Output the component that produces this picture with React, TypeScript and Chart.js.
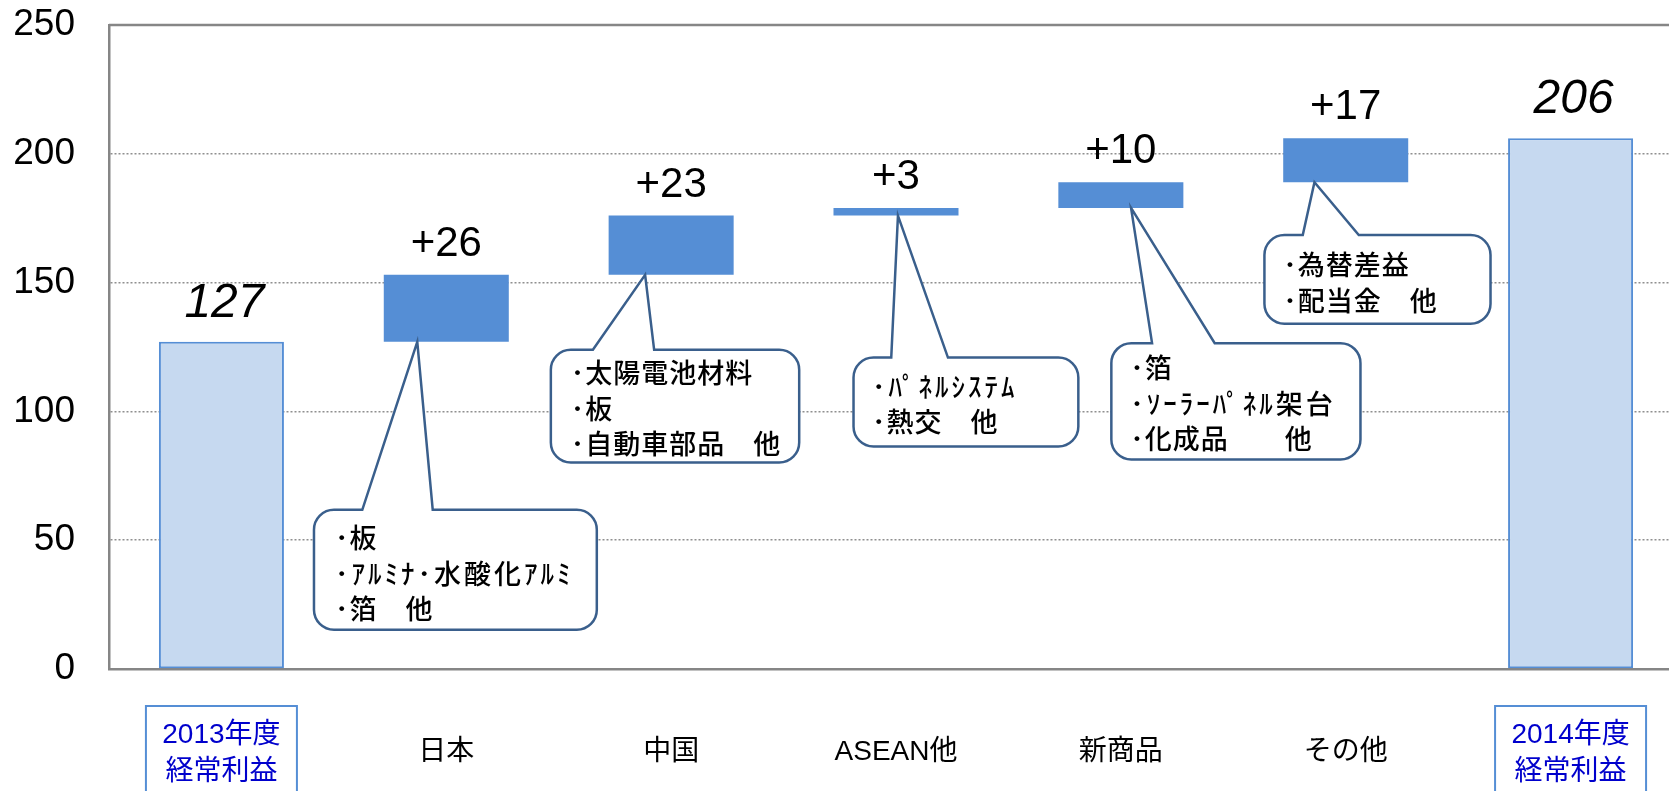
import React, { useEffect, useRef } from "react";
import { Chart, registerables } from "chart.js";

Chart.register(...registerables);

// ---------- data ----------
const categories: (string | string[])[] = [
  ["2013年度", "経常利益"],
  "日本",
  "中国",
  "ASEAN他",
  "新商品",
  "その他",
  ["2014年度", "経常利益"],
];
const startTotal = 127;
const endTotal = 206;
const deltas = [26, 23, 3, 10, 17];
const yMin = 0;
const yMax = 250;
const yStep = 50;

const calloutTexts: string[][] = [
  ["･板", "･ｱﾙﾐﾅ･水酸化ｱﾙﾐ", "･箔　他"],
  ["･太陽電池材料", "･板", "･自動車部品　他"],
  ["･ﾊﾟﾈﾙｼｽﾃﾑ", "･熱交　他"],
  ["･箔", "･ｿｰﾗｰﾊﾟﾈﾙ架台", "･化成品　　他"],
  ["･為替差益", "･配当金　他"],
];

// ---------- layout of callouts (category offsets for x, axis values for y) ----------
const calloutLayout = [
  { tip: -0.129, base: [-0.3735, -0.0603], box: [-0.5884, 0.6694, 61.8, 15.25], textX: -0.495, firstLine: 50.95 },
  { tip: -0.1157, base: [-0.348, -0.0756], box: [-0.535, 0.5695, 123.9, 80.2], textX: -0.446, firstLine: 115.0 },
  { tip: 0.0087, base: [-0.0211, 0.2311], box: [-0.1889, 0.8109, 120.9, 86.4], textX: -0.107, firstLine: 109.7 },
  { tip: 0.0454, base: [0.1388, 0.4174], box: [-0.0423, 1.0656, 126.5, 81.3], textX: 0.0423, firstLine: 116.8 },
  { tip: -0.139, base: [-0.191, 0.0581], box: [-0.3615, 0.644, 168.5, 134.0], textX: -0.278, firstLine: 156.9 },
];

// floating bar ranges built from the values
const barRanges: [number, number][] = (() => {
  const out: [number, number][] = [[0, startTotal]];
  let run = startTotal;
  deltas.forEach((d) => {
    out.push([run, run + d]);
    run += d;
  });
  out.push([0, endTotal]);
  return out;
})();

const barLabels: string[] = [
  String(startTotal),
  ...deltas.map((d) => (d >= 0 ? "+" : "") + d),
  String(endTotal),
];

const LIGHT = "#C6D9F0";
const DARK = "#558ED5";
const CALLOUT_LINE = "#3A5F8C";
const AXIS = "#868686";
const BOX_TEXT = "#0000CC";
const HALF_KANA = /[\uFF66-\uFF9F]/;

function calloutPath(
  ctx: CanvasRenderingContext2D,
  l: number, t: number, r: number, b: number, rad: number,
  bx1: number, bx2: number, tx: number, ty: number
) {
  ctx.beginPath();
  ctx.moveTo(l + rad, t);
  ctx.lineTo(bx1, t);
  ctx.lineTo(tx, ty);
  ctx.lineTo(bx2, t);
  ctx.lineTo(r - rad, t);
  ctx.arcTo(r, t, r, t + rad, rad);
  ctx.lineTo(r, b - rad);
  ctx.arcTo(r, b, r - rad, b, rad);
  ctx.lineTo(l + rad, b);
  ctx.arcTo(l, b, l, b - rad, rad);
  ctx.lineTo(l, t + rad);
  ctx.arcTo(l, t, l + rad, t, rad);
  ctx.closePath();
}

const overlayPlugin = {
  id: "overlay",
  afterDatasetsDraw(chart: any) {
    const ctx: CanvasRenderingContext2D = chart.ctx;
    const xs = chart.scales.x;
    const ys = chart.scales.y;
    const ca = chart.chartArea;
    const catW = xs.getPixelForValue(1) - xs.getPixelForValue(0);
    const n = categories.length;

    ctx.save();
    // top frame line
    ctx.strokeStyle = AXIS;
    ctx.lineWidth = 2.5;
    ctx.beginPath();
    ctx.moveTo(ca.left, ca.top);
    ctx.lineTo(ca.right, ca.top);
    ctx.stroke();

    // value labels above bars
    const meta = chart.getDatasetMeta(0);
    meta.data.forEach((bar: any, i: number) => {
      const isTotal = i === 0 || i === n - 1;
      const top = ys.getPixelForValue(barRanges[i][1]);
      ctx.fillStyle = "#000";
      ctx.textAlign = "center";
      ctx.textBaseline = "alphabetic";
      ctx.font = isTotal ? 'italic 48px "Liberation Sans"' : '42px "Liberation Sans"';
      ctx.fillText(barLabels[i], bar.x + (isTotal ? 3 : 0), top - (isTotal ? 25 : 19));
    });

    // callouts
    calloutLayout.forEach((c, k) => {
      const idx = k + 1;
      const cx = xs.getPixelForValue(idx);
      const tipX = cx + c.tip * catW;
      const tipY = ys.getPixelForValue(barRanges[idx][0]);
      const l = cx + c.box[0] * catW;
      const r = cx + c.box[1] * catW;
      const t = ys.getPixelForValue(c.box[2]);
      const b = ys.getPixelForValue(c.box[3]);
      calloutPath(ctx, l, t, r, b, 20, cx + c.base[0] * catW, cx + c.base[1] * catW, tipX, tipY);
      ctx.fillStyle = "#fff";
      ctx.fill();
      ctx.strokeStyle = CALLOUT_LINE;
      ctx.lineWidth = 2.5;
      ctx.lineJoin = "miter";
      ctx.stroke();

      ctx.fillStyle = "#000";
      ctx.textAlign = "left";
      ctx.textBaseline = "middle";
      ctx.font = '500 27px "Noto Sans CJK JP"';
      const y0 = ys.getPixelForValue(c.firstLine);
      calloutTexts[k].forEach((line, j) => {
        (ctx as any).letterSpacing = HALF_KANA.test(line) ? "3px" : "1px";
        ctx.fillText(line, cx + c.textX * catW, y0 + j * 35.5);
      });
      (ctx as any).letterSpacing = "0px";
    });

    // category labels under the axis
    const labelTop = xs.top;
    categories.forEach((cat, i) => {
      const x = xs.getPixelForValue(i);
      ctx.textAlign = "center";
      ctx.textBaseline = "middle";
      ctx.font = '28px "Liberation Sans", "Noto Sans CJK JP"';
      if (Array.isArray(cat)) {
        ctx.strokeStyle = DARK;
        ctx.lineWidth = 2;
        ctx.fillStyle = "#fff";
        ctx.beginPath();
        ctx.rect(x - 75.5, labelTop + 37, 151, 110);
        ctx.fill();
        ctx.stroke();
        ctx.fillStyle = BOX_TEXT;
        cat.forEach((line, j) => {
          ctx.fillText(line, x, labelTop + 66.5 + j * 37);
        });
      } else {
        ctx.fillStyle = "#000";
        ctx.fillText(cat, x, labelTop + 83);
      }
    });
    ctx.restore();
  },
};

export default function App() {
  const ref = useRef<HTMLCanvasElement | null>(null);

  useEffect(() => {
    if (!ref.current) return;
    const chart = new Chart(ref.current, {
      type: "bar",
      data: {
        labels: categories as any,
        datasets: [
          {
            data: barRanges as any,
            backgroundColor: barRanges.map((_, i) => (i === 0 || i === barRanges.length - 1 ? LIGHT : DARK)),
            borderColor: barRanges.map((_, i) => (i === 0 || i === barRanges.length - 1 ? DARK : "rgba(0,0,0,0)")),
            borderWidth: barRanges.map((_, i) => (i === 0 || i === barRanges.length - 1 ? 2 : 0)),
            borderSkipped: false,
            barPercentage: 0.556,
            categoryPercentage: 1,
          },
        ],
      },
      options: {
        animation: false,
        responsive: false,
        devicePixelRatio: 1,
        layout: { padding: { top: 25, left: 0, right: 0, bottom: 0 } },
        plugins: { legend: { display: false }, tooltip: { enabled: false } },
        scales: {
          x: {
            type: "category",
            grid: { display: false, drawTicks: false },
            border: { display: true, color: AXIS, width: 2.5 },
            ticks: { display: false },
            afterFit: (s: any) => {
              s.height = 122;
              s.paddingLeft = 0;
              s.paddingRight = 0;
            },
          },
          y: {
            min: yMin,
            max: yMax,
            ticks: {
              stepSize: yStep,
              color: "#000",
              padding: 34,
              font: { family: '"Liberation Sans"', size: 37 },
            },
            grid: {
              drawTicks: false,
              lineWidth: 1.5,
              color: (c: any) =>
                c.tick && (c.tick.value === yMin || c.tick.value === yMax) ? "rgba(0,0,0,0)" : "#8f8f8f",
            },
            border: { display: true, color: AXIS, width: 2.5, dash: [2, 2] },
            afterFit: (s: any) => {
              s.width = 109;
              s.paddingTop = 0;
              s.paddingBottom = 0;
            },
          },
        },
      },
      plugins: [overlayPlugin],
    });
    return () => chart.destroy();
  }, []);

  return (
    <div
      style={{
        position: "fixed",
        left: 0,
        top: 0,
        width: 1669,
        height: 791,
        overflow: "hidden",
        background: "#fff",
      }}
    >
      <canvas ref={ref} width={1683} height={791} style={{ display: "block", width: 1683, height: 791 }} />
    </div>
  );
}
